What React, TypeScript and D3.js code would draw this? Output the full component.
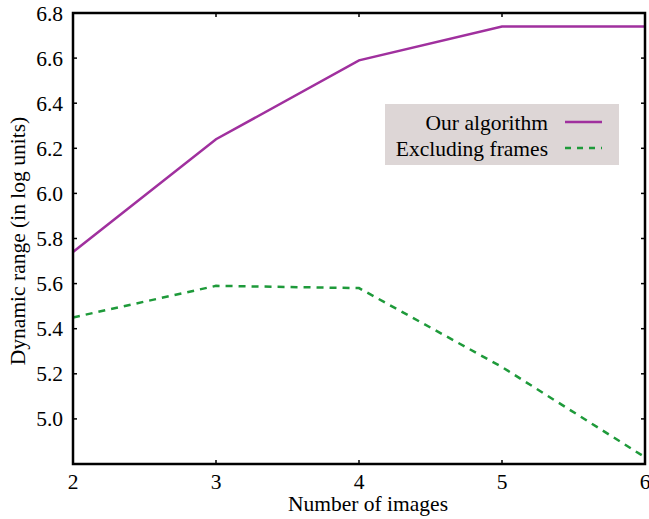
import * as d3 from "d3";

const images = [2, 3, 4, 5, 6];
const ourAlgorithm = [5.74, 6.24, 6.59, 6.74, 6.74];
const excludingFrames = [5.45, 5.59, 5.58, 5.23, 4.83];
const xTicks = [2, 3, 4, 5, 6];
const yTicks = [5.0, 5.2, 5.4, 5.6, 5.8, 6.0, 6.2, 6.4, 6.6, 6.8];

const W = 649;
const H = 519;
const m = { left: 73, right: 4, top: 13, bottom: 55 };
const font = "'Liberation Serif', 'DejaVu Serif', serif";
const FS = 21.5;

const PURPLE = "#a0309e";
const GREEN = "#1e9a3a";

export default function App() {
  const x = d3.scaleLinear().domain([2, 6]).range([m.left, W - m.right]);
  const y = d3.scaleLinear().domain([4.8, 6.8]).range([H - m.bottom, m.top]);

  const line = d3
    .line<number>()
    .x((_, i) => x(images[i]))
    .y((d) => y(d));

  const [x0, x1] = x.range();
  const [y0, y1] = [y(4.8), y(6.8)];

  return (
    <svg
      width={W}
      height={H}
      style={{ position: "absolute", left: 0, top: 0, background: "#fff" }}
      fontFamily={font}
    >
      <path d={line(ourAlgorithm) ?? ""} fill="none" stroke={PURPLE} strokeWidth={2.5} />
      <path
        d={line(excludingFrames) ?? ""}
        fill="none"
        stroke={GREEN}
        strokeWidth={2.5}
        strokeDasharray="7,6"
      />

      {/* frame */}
      <rect x={x0} y={y1} width={x1 - x0} height={y0 - y1} fill="none" stroke="#000" strokeWidth={2.5} />

      {yTicks.map((t) => (
        <g key={t}>
          <line x1={x0} x2={x0 + 4} y1={y(t)} y2={y(t)} stroke="#000" strokeWidth={1.5} />
          <line x1={x1} x2={x1 - 4} y1={y(t)} y2={y(t)} stroke="#000" strokeWidth={1.5} />
          <text x={x0 - 10} y={y(t)} dy="0.35em" textAnchor="end" fontSize={FS}>
            {t.toFixed(1)}
          </text>
        </g>
      ))}
      {xTicks.map((t) => (
        <g key={t}>
          <line x1={x(t)} x2={x(t)} y1={y0} y2={y0 - 4} stroke="#000" strokeWidth={1.5} />
          <line x1={x(t)} x2={x(t)} y1={y1} y2={y1 + 4} stroke="#000" strokeWidth={1.5} />
          <text x={x(t)} y={y0 + 25} textAnchor="middle" fontSize={FS}>
            {t}
          </text>
        </g>
      ))}

      <text x={368} y={H - 8} textAnchor="middle" fontSize={FS}>
        Number of images
      </text>
      <text
        transform={`translate(25, 241) rotate(-90)`}
        textAnchor="middle"
        fontSize={FS}
      >
        Dynamic range (in log units)
      </text>

      {/* legend */}
      <rect x={385} y={104} width={234} height={61} fill="#ddd6d6" />
      <text x={548} y={122} dy="0.35em" textAnchor="end" fontSize={FS}>
        Our algorithm
      </text>
      <line x1={565} x2={602} y1={122} y2={122} stroke={PURPLE} strokeWidth={2.5} />
      <text x={548} y={148} dy="0.35em" textAnchor="end" fontSize={FS}>
        Excluding frames
      </text>
      <line x1={565} x2={602} y1={148} y2={148} stroke={GREEN} strokeWidth={2.5} strokeDasharray="6,6" />
    </svg>
  );
}
